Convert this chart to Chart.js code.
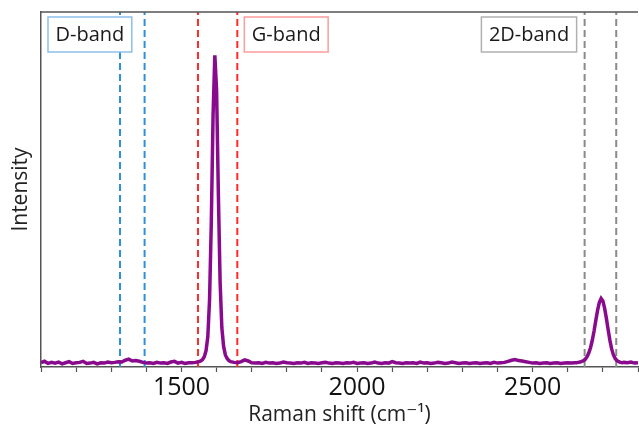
<!DOCTYPE html>
<html>
<head>
<meta charset="utf-8">
<script src="https://cdn.jsdelivr.net/npm/chart.js@4/dist/chart.umd.min.js"></script>
<style>
html,body{margin:0;padding:0;background:#fff;}
canvas{display:block;}
</style>
</head>
<body>
<canvas id="c" width="639" height="430"></canvas>
<script>
// Raman shift (cm-1)
const ramanShift = [
1100,1110,1120,1130,1140,1150,1160,1170,1180,1190,1200,1210,1220,1230,1240,1250,1260,1270,1280,1290,
1300,1310,1320,1330,1340,1350,1360,1370,1380,1390,1400,1410,1420,1430,1440,1450,1460,1470,1480,1490,
1500,1510,1520,1530,1540,
1545,1550,1555,1560,1565,1570,1575,1580,1585,1590,1595,1600,1605,1610,1615,1620,1625,1630,1635,1640,
1650,1660,1670,1680,1690,1700,1710,1720,1730,1740,1750,1760,1770,1780,1790,1800,1810,1820,1830,1840,
1850,1860,1870,1880,1890,1900,1910,1920,1930,1940,1950,1960,1970,1980,1990,2000,2010,2020,2030,2040,
2050,2060,2070,2080,2090,2100,2110,2120,2130,2140,2150,2160,2170,2180,2190,2200,2210,2220,2230,2240,
2250,2260,2270,2280,2290,2300,2310,2320,2330,2340,2350,2360,2370,2380,2390,2400,2410,2420,2430,2440,
2450,2460,2470,2480,2490,2500,2510,2520,2530,2540,2550,2560,2570,2580,2590,2600,2610,2620,
2625,2630,2635,2640,2645,2650,2655,2660,2665,2670,2675,2680,2685,2690,2695,2700,2705,2710,2715,2720,
2725,2730,2735,2740,2745,2750,2755,2760,
2770,2780,2790,2800
];
// Intensity (arbitrary units)
const intensity = [
.012,.016,.010,.013,.011,.014,.009,.012,.015,.010,.012,.013,.016,.010,.011,.013,.009,.012,.011,.014,
.012,.013,.015,.014,.019,.022,.017,.018,.016,.013,.011,.012,.010,.013,.011,.012,.010,.014,.016,.011,
.013,.010,.012,.012,.013,
.014,.015,.017,.021,.029,.046,.085,.19,.41,.71,.878,.78,.49,.24,.11,.058,.034,.024,.018,.015,
.013,.012,.015,.020,.017,.012,.011,.012,.010,.013,.011,.012,.010,.011,.014,.012,.011,.010,.012,.011,
.013,.010,.012,.011,.010,.012,.013,.011,.010,.012,.011,.010,.012,.011,.013,.010,.011,.012,.010,.011,
.014,.011,.010,.012,.011,.015,.012,.011,.010,.012,.011,.012,.010,.014,.011,.012,.010,.011,.013,.012,
.010,.011,.014,.012,.010,.011,.012,.010,.011,.012,.010,.011,.012,.010,.013,.011,.012,.013,.016,.019,
.021,.018,.017,.015,.013,.011,.012,.010,.011,.012,.010,.011,.012,.010,.011,.012,.011,.012,
.012,.013,.014,.016,.018,.022,.029,.040,.055,.076,.102,.132,.160,.182,.193,.186,.165,.137,.105,.075,
.051,.034,.024,.018,.015,.013,.012,.013,
.012,.014,.011,.012
];
// Band markers
const bandNames = ["D-band", "G-band", "2D-band"];
const bandLimits = [[1325, 1395], [1547, 1659], [2648, 2738]];
const xTickStep = 100;
const xLabelEvery = 500;

const FONT = "'Open Sans', 'DejaVu Sans', sans-serif";
const bandColors = ["#2F8FD8", "#FF2A2A", "#8A8A8A"];
const boxColors = ["#8CC0EA", "#FF9C9C", "#B0B0B0"];

const spectrum = ramanShift.map((x, i) => ({x: x, y: intensity[i]}));
const datasets = [{
  data: spectrum, borderColor: "#8A0A8E", borderWidth: 3.5, pointRadius: 0,
  tension: 0, fill: false, order: 0
}];
bandLimits.forEach((lims, b) => {
  lims.forEach(v => {
    datasets.push({
      data: [{x: v, y: 0}, {x: v, y: 1}],
      borderColor: bandColors[b], borderWidth: 2, borderDash: [7, 4],
      pointRadius: 0, fill: false, order: 1
    });
  });
});

const framePlugin = {
  id: "frame",
  afterDraw(chart) {
    const ctx = chart.ctx, a = chart.chartArea, xs = chart.scales.x;
    ctx.save();
    ctx.strokeStyle = "#555"; ctx.lineWidth = 1.5;
    ctx.beginPath(); ctx.moveTo(a.left, a.top); ctx.lineTo(a.right, a.top); ctx.stroke();
    ctx.font = "20px " + FONT;
    ctx.textBaseline = "middle"; ctx.textAlign = "left";
    const h = 35, top = a.top + 5, pad = 7.5;
    bandNames.forEach((name, b) => {
      const w = ctx.measureText(name).width + 2 * pad;
      let left;
      if (b === 0) left = a.left + 7;
      else if (b === 1) left = xs.getPixelForValue(bandLimits[b][1]) + 7;
      else left = xs.getPixelForValue(bandLimits[b][0]) - 8 - w;
      ctx.fillStyle = "#fff";
      ctx.fillRect(left, top, w, h);
      ctx.strokeStyle = boxColors[b]; ctx.lineWidth = 1.5;
      ctx.strokeRect(left, top, w, h);
      ctx.fillStyle = "#1a1a1a";
      ctx.fillText(name, left + pad, top + h / 2 + 1);
    });
    ctx.restore();
  }
};

new Chart(document.getElementById("c"), {
  type: "line",
  data: {datasets: datasets},
  options: {
    responsive: false, animation: false, devicePixelRatio: 1,
    layout: {padding: {top: 12, right: 0, left: 0, bottom: 0}},
    plugins: {legend: {display: false}, tooltip: {enabled: false}},
    scales: {
      x: {
        type: "linear", min: 1100, max: 2800,
        border: {display: true, color: "#555", width: 1.5},
        grid: {display: true, drawOnChartArea: false, drawTicks: true, tickLength: 5, tickColor: "#555", tickWidth: 1.2},
        ticks: {
          stepSize: xTickStep, autoSkip: false, maxRotation: 0, padding: 1,
          color: "#111", font: {family: FONT, size: 25},
          callback: v => (v % xLabelEvery === 0 ? String(v) : "")
        },
        title: {display: true, text: "Raman shift (cm\u207B\u00B9)", color: "#222",
          font: {family: FONT, size: 21}, padding: {top: 0, bottom: 2}},
        afterFit: s => { s.height = 63; }
      },
      y: {
        min: 0, max: 1,
        border: {display: true, color: "#555", width: 1.5},
        grid: {display: false},
        ticks: {display: false},
        title: {display: true, text: "Intensity", color: "#222",
          font: {family: FONT, size: 21}, padding: {top: 8, bottom: 0}},
        afterFit: s => { s.width = 41; }
      }
    }
  },
  plugins: [framePlugin]
});
</script>
</body>
</html>
